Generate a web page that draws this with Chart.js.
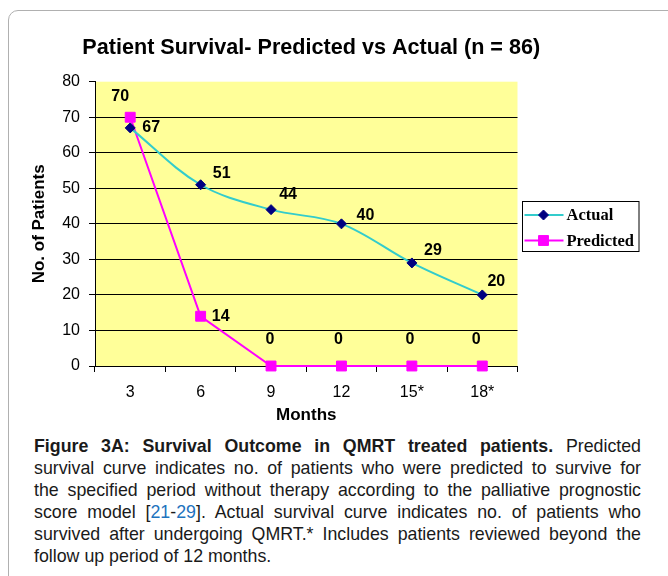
<!DOCTYPE html>
<html>
<head>
<meta charset="utf-8">
<script src="https://cdn.jsdelivr.net/npm/chart.js@4.4.1/dist/chart.umd.min.js"></script>
<style>
  html, body { margin:0; padding:0; background:#fff; width:668px; height:576px; overflow:hidden; }
  #frame { position:absolute; left:8px; top:10px; width:700px; height:620px; border:1px solid #b0b0b0; border-radius:10px; box-sizing:border-box; }
  #chart { position:absolute; left:0; top:0; }
  #caption { position:absolute; left:34px; top:435px; width:607px; font-family:"Liberation Sans", Arial, sans-serif; font-size:17.8px; line-height:22px; color:#1a1a1a; }
  #caption div { text-align:justify; text-align-last:justify; }
  #caption div.last { text-align:left; text-align-last:left; }
  #caption a { color:#1e73be; text-decoration:none; }
</style>
</head>
<body>
<div id="frame"></div>
<canvas id="chart" width="668" height="430"></canvas>
<div id="caption">
<div><b>Figure 3A: Survival Outcome in QMRT treated patients.</b> Predicted</div>
<div>survival curve indicates no. of patients who were predicted to survive for</div>
<div>the specified period without therapy according to the palliative prognostic</div>
<div>score model [<a>21</a>-<a>29</a>]. Actual survival curve indicates no. of patients who</div>
<div>survived after undergoing QMRT.* Includes patients reviewed beyond the</div>
<div class="last">follow up period of 12 months.</div>
</div>
<script>
const months = ['3', '6', '9', '12', '15*', '18*'];
const actual = [67, 51, 44, 40, 29, 20];
const predicted = [70, 14, 0, 0, 0, 0];
const yMin = 0, yMax = 80, yStep = 10;
const seriesNames = ['Actual', 'Predicted'];
const chartTitle = 'Patient Survival- Predicted vs Actual (n = 86)';

// label placement (pixels relative to point) – styling, not data
const labelOffsets = [
  [[21, 0], [21, -11], [17, -15], [24, -8], [21, -12], [14, -13]],
  [[-10, -21], [20, 0], [-1, -26], [-3, -26], [-2, -26], [-6, -26]]
];

const bgPlugin = {
  id: 'bg',
  beforeDraw(chart) {
    const {ctx, chartArea: a} = chart;
    ctx.save();
    ctx.fillStyle = '#FFFF99';
    ctx.fillRect(a.left, a.top, a.right - a.left, a.bottom - a.top);
    ctx.restore();
  }
};

const titlePlugin = {
  id: 'centeredTitle',
  afterDraw(chart) {
    const {ctx, chartArea: a} = chart;
    ctx.save();
    ctx.font = 'bold 21.6px "Liberation Sans", Arial, sans-serif';
    ctx.fillStyle = '#000';
    ctx.textAlign = 'center';
    ctx.textBaseline = 'middle';
    ctx.fillText(chartTitle, (a.left + a.right) / 2 + 5, a.top - 33.5);
    ctx.restore();
  }
};

const labelPlugin = {
  id: 'pointLabels',
  afterDatasetsDraw(chart) {
    const ctx = chart.ctx;
    ctx.save();
    ctx.font = 'bold 16px "Liberation Sans", Arial, sans-serif';
    ctx.fillStyle = '#000';
    ctx.textAlign = 'center';
    ctx.textBaseline = 'middle';
    chart.data.datasets.forEach((ds, di) => {
      const meta = chart.getDatasetMeta(di);
      meta.data.forEach((pt, i) => {
        const off = labelOffsets[di][i];
        ctx.fillText(String(ds.data[i]), pt.x + off[0], pt.y + off[1]);
      });
    });
    ctx.restore();
  }
};

const legendPlugin = {
  id: 'customLegend',
  afterDraw(chart) {
    const ctx = chart.ctx;
    const bx = 522.5, by = 201.5, bw = 116.5, bh = 50;
    ctx.save();
    ctx.strokeStyle = '#000';
    ctx.lineWidth = 1;
    ctx.strokeRect(bx, by, bw, bh);
    ctx.font = 'bold 16.5px "Liberation Serif", "Times New Roman", serif';
    ctx.textBaseline = 'middle';
    ctx.textAlign = 'left';
    chart.data.datasets.forEach((ds, di) => {
      const y = by + 13.5 + di * 25.5;
      ctx.strokeStyle = ds.borderColor;
      ctx.lineWidth = 2;
      ctx.beginPath();
      ctx.moveTo(bx + 2, y);
      ctx.lineTo(bx + 41, y);
      ctx.stroke();
      ctx.fillStyle = ds.pointBackgroundColor;
      ctx.strokeStyle = ds.pointBorderColor;
      ctx.lineWidth = ds.pointBorderWidth;
      ctx.beginPath();
      const r = ds.pointRadius;
      if (ds.pointStyle === 'rectRot') {
        ctx.moveTo(bx + 21, y - r); ctx.lineTo(bx + 21 + r, y); ctx.lineTo(bx + 21, y + r); ctx.lineTo(bx + 21 - r, y); ctx.closePath();
      } else {
        const s = r * Math.SQRT1_2;
        ctx.rect(bx + 21 - s, y - s, 2 * s, 2 * s);
      }
      ctx.fill(); ctx.stroke();
      ctx.fillStyle = '#000';
      ctx.fillText(seriesNames[di], bx + 44, y + 1);
    });
    ctx.restore();
  }
};

new Chart(document.getElementById('chart'), {
  type: 'line',
  data: {
    labels: months,
    datasets: [
      {
        label: seriesNames[0],
        data: actual,
        borderColor: '#33CCCC',
        borderWidth: 2,
        tension: 0.35,
        pointStyle: 'rectRot',
        pointRadius: 5,
        pointBackgroundColor: '#000080',
        pointBorderColor: '#000080',
        pointBorderWidth: 1,
        fill: false,
        clip: false
      },
      {
        label: seriesNames[1],
        data: predicted,
        borderColor: '#FF00FF',
        borderWidth: 2,
        tension: 0,
        pointStyle: 'rect',
        pointRadius: 7,
        pointBackgroundColor: '#FF00FF',
        pointBorderColor: '#FF00FF',
        pointBorderWidth: 1,
        fill: false,
        clip: false
      }
    ]
  },
  options: {
    responsive: false,
    animation: false,
    devicePixelRatio: 1,
    layout: { padding: { left: 0, right: 150.5, top: 81.7, bottom: 0 } },
    plugins: {
      legend: { display: false },
      tooltip: { enabled: false },
      title: { display: false }
    },
    scales: {
      x: {
        type: 'category',
        offset: true,
        grid: { offset: true, drawOnChartArea: false, drawTicks: true, tickLength: 6, color: '#000', tickColor: '#000' },
        border: { color: '#000', width: 1 },
        ticks: { color: '#000', padding: 10.5, font: { family: '"Liberation Sans", Arial, sans-serif', size: 16 } },
        title: {
          display: true, text: 'Months', color: '#000',
          font: { family: '"Liberation Sans", Arial, sans-serif', size: 17, weight: 'bold' },
          padding: { top: 0, bottom: 4 }
        },
        afterFit(s) { s.height = 64; }
      },
      y: {
        min: yMin, max: yMax,
        grid: {
          color: c => (c.tick && c.tick.value === yMax) ? 'rgba(0,0,0,0)' : '#000',
          tickColor: '#000', tickLength: 6, drawTicks: true
        },
        border: { color: '#000', width: 1 },
        ticks: { stepSize: yStep, color: '#000', padding: 9, font: { family: '"Liberation Sans", Arial, sans-serif', size: 16 } },
        title: {
          display: true, text: 'No. of Patients', color: '#000',
          font: { family: '"Liberation Sans", Arial, sans-serif', size: 17, weight: 'bold' },
          padding: { top: 29, bottom: 0 }
        },
        afterFit(s) { s.width = 95; }
      }
    }
  },
  plugins: [bgPlugin, labelPlugin, legendPlugin, titlePlugin]
});
</script>
</body>
</html>
